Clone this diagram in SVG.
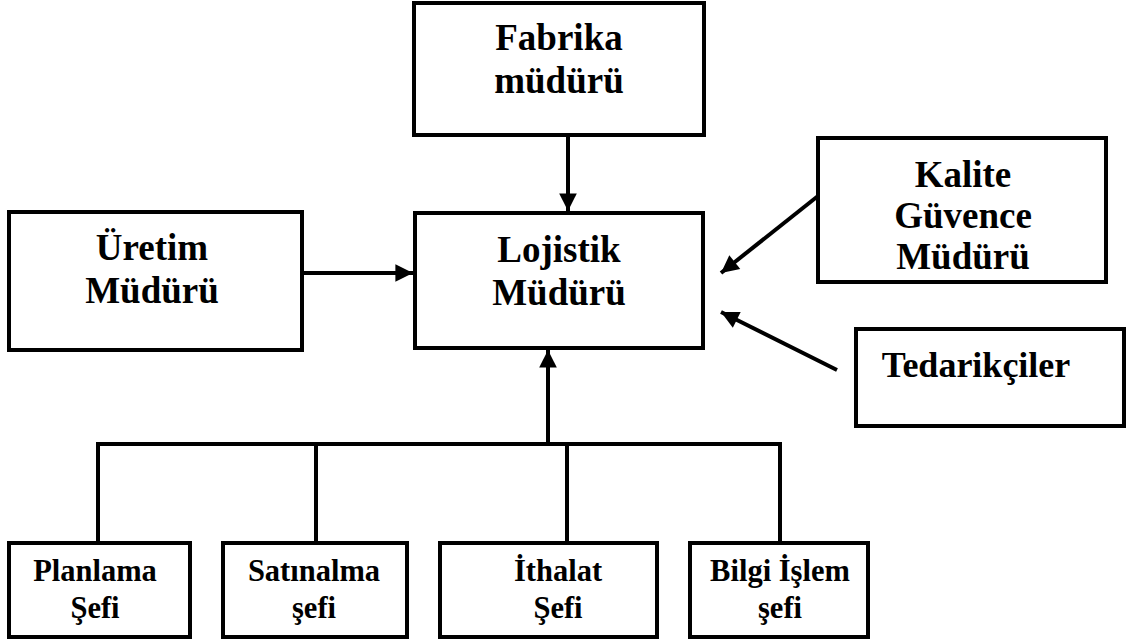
<svg xmlns="http://www.w3.org/2000/svg" width="1128" height="642" viewBox="0 0 1128 642">
<defs>
<style>
.box{fill:#fff;stroke:#000;stroke-width:4}
.t{font-weight:bold;font-size:37px;text-anchor:middle;fill:#000}
.s{font-weight:bold;font-size:30.5px;text-anchor:middle;fill:#000}
.c{fill:none;stroke:#000;stroke-width:4}
</style>
<marker id="ah" viewBox="0 0 10 10" refX="10" refY="5" markerWidth="4.8" markerHeight="4.4" markerUnits="strokeWidth" orient="auto">
<path d="M0,0 L10,5 L0,10 z" fill="#000"/>
</marker>
</defs>
<rect width="1128" height="642" fill="#fff"/>
<g id="connectors">
<line class="c" x1="568" y1="135" x2="568" y2="211" marker-end="url(#ah)"/>
<line class="c" x1="302" y1="273" x2="413" y2="273" marker-end="url(#ah)"/>
<line class="c" x1="818" y1="196" x2="721" y2="273" marker-end="url(#ah)"/>
<line class="c" x1="837" y1="370" x2="721" y2="312" marker-end="url(#ah)"/>
<line class="c" x1="548" y1="444" x2="548" y2="350" marker-end="url(#ah)"/>
<polyline class="c" points="98,543 98,444 780,444 780,543"/>
<line class="c" x1="316" y1="444" x2="316" y2="543"/>
<line class="c" x1="567" y1="444" x2="567" y2="543"/>
</g>
<g font-family="Liberation Serif, DejaVu Serif, Times New Roman, serif">
<g id="fabrika">
<rect class="box" x="414" y="3" width="290" height="132"/>
<text class="t" x="559" y="50">Fabrika</text>
<text class="t" x="559" y="93">müdürü</text>
</g>
<g id="lojistik">
<rect class="box" x="415" y="213" width="288" height="135"/>
<text class="t" x="559" y="262">Lojistik</text>
<text class="t" x="559" y="305">Müdürü</text>
</g>
<g id="uretim">
<rect class="box" x="9" y="212" width="293" height="138"/>
<text class="t" x="152" y="260">Üretim</text>
<text class="t" x="152" y="303">Müdürü</text>
</g>
<g id="kalite">
<rect class="box" x="818" y="138" width="288" height="144"/>
<text class="t" x="963" y="187">Kalite</text>
<text class="t" x="963" y="228">Güvence</text>
<text class="t" x="963" y="269">Müdürü</text>
</g>
<g id="tedarikciler">
<rect class="box" x="856" y="329" width="268" height="97"/>
<text class="t" x="976" y="377" style="font-size:36px">Tedarikçiler</text>
</g>
<g id="planlama">
<rect class="box" x="9" y="543" width="181" height="94"/>
<text class="s" x="95" y="581">Planlama</text>
<text class="s" x="95" y="618">Şefi</text>
</g>
<g id="satinalma">
<rect class="box" x="223" y="543" width="184" height="94"/>
<text class="s" x="314" y="581">Satınalma</text>
<text class="s" x="314" y="618">şefi</text>
</g>
<g id="ithalat">
<rect class="box" x="440" y="543" width="217" height="94"/>
<text class="s" x="558" y="581">İthalat</text>
<text class="s" x="558" y="618">Şefi</text>
</g>
<g id="bilgi">
<rect class="box" x="690" y="543" width="178" height="94"/>
<text class="s" x="780" y="581">Bilgi İşlem</text>
<text class="s" x="780" y="618">şefi</text>
</g>
</g>
</svg>
